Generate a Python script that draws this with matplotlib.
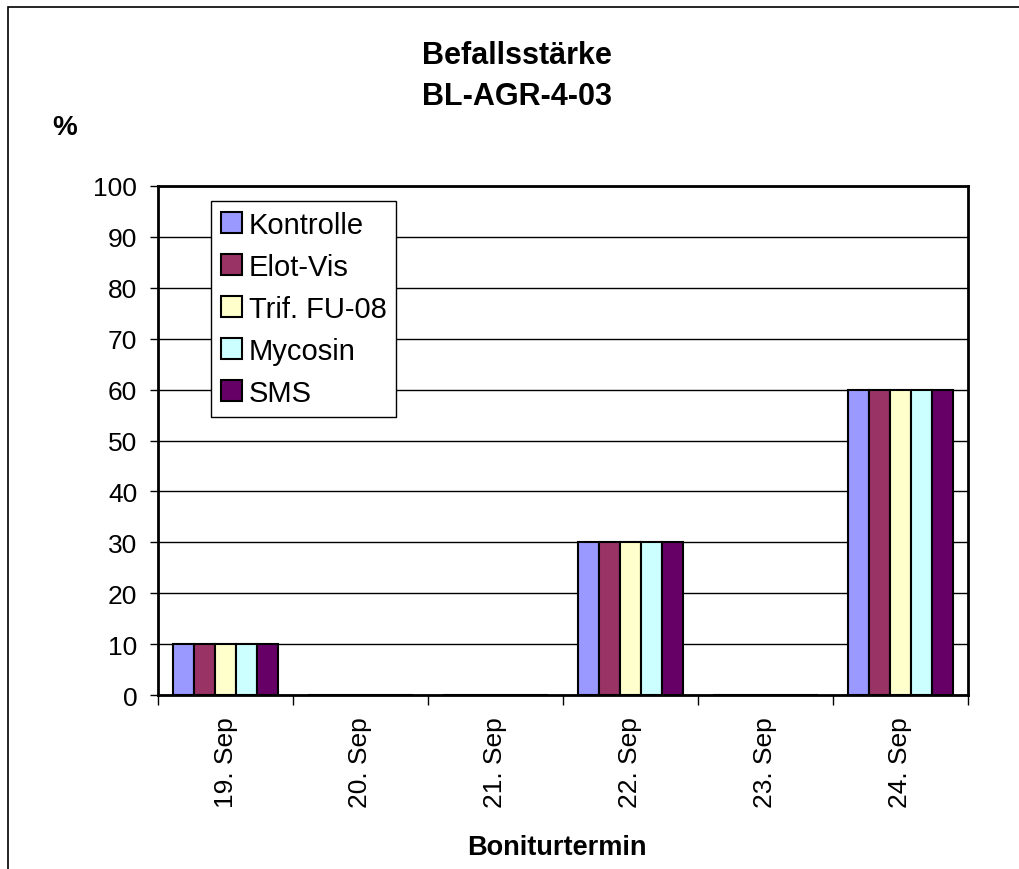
import numpy as np
import matplotlib.pyplot as plt
from matplotlib.patches import Rectangle

plt.rcParams["font.family"] = ["Liberation Sans", "DejaVu Sans"]

dates = ["19. Sep", "20. Sep", "21. Sep", "22. Sep", "23. Sep", "24. Sep"]
kontrolle = [10, 0, 0, 30, 0, 60]
elot_vis = [10, 0, 0, 30, 0, 60]
trif_fu08 = [10, 0, 0, 30, 0, 60]
mycosin = [10, 0, 0, 30, 0, 60]
sms = [10, 0, 0, 30, 0, 60]

series = [
    ("Kontrolle", kontrolle, "#9999FF"),
    ("Elot-Vis", elot_vis, "#993366"),
    ("Trif. FU-08", trif_fu08, "#FFFFCC"),
    ("Mycosin", mycosin, "#CCFFFF"),
    ("SMS", sms, "#660066"),
]

fig = plt.figure(figsize=(10.19, 8.7), dpi=100)
fig.patches.append(Rectangle((8 / 1019, -0.01), 1.2, 1 - 8 / 870 + 0.01,
                             transform=fig.transFigure, fill=False,
                             edgecolor="black", linewidth=1.2))
ax = fig.add_axes([158 / 1019, 1 - 696 / 870, 810 / 1019, 509 / 870])

x = np.arange(len(dates))
bw = 0.778 / len(series)
for i, (name, vals, col) in enumerate(series):
    pos = x - 0.389 + bw * (i + 0.5)
    ax.bar(pos, vals, width=bw, color=col, edgecolor="black", linewidth=1.5,
           label=name, zorder=3)

ax.set_xlim(-0.5, len(dates) - 0.5)
ax.set_ylim(0, 100)
ax.set_yticks(np.arange(0, 101, 10))
ax.yaxis.grid(True, color="black", linewidth=1)
ax.set_axisbelow(True)
ax.set_xticks(x)
ax.set_xticklabels(dates, rotation=90, fontsize=19)
ax.tick_params(axis="x", length=0, pad=15)
ax.set_xticks(np.arange(-0.5, len(dates), 1), minor=True)
ax.tick_params(axis="x", which="minor", length=7, width=1, direction="out")
ax.tick_params(axis="y", labelsize=19, length=6, width=1, direction="out", pad=9)
for s in ax.spines.values():
    s.set_linewidth(2)

fig.text(557 / 1019, 1 - 848 / 870, "Boniturtermin", ha="center", va="center",
         fontsize=19.5, fontweight="bold")
fig.text(517 / 1019, 1 - 56 / 870, "Befallsstärke", ha="center", va="center",
         fontsize=22, fontweight="bold")
fig.text(517 / 1019, 1 - 97 / 870, "BL-AGR-4-03", ha="center", va="center",
         fontsize=22, fontweight="bold")
fig.text(65 / 1019, 1 - 128 / 870, "%", ha="center", va="center",
         fontsize=20, fontweight="bold")

leg = ax.legend(loc="upper left", bbox_to_anchor=(0.066, 0.97), fontsize=21,
                frameon=True, fancybox=False, edgecolor="black",
                handlelength=0.7, handleheight=0.7, handletextpad=0.25,
                labelspacing=0.48, borderpad=0.33, borderaxespad=0)
leg.get_frame().set_linewidth(1)
leg.get_frame().set_alpha(1)

fig.savefig("out.png", dpi=100)
